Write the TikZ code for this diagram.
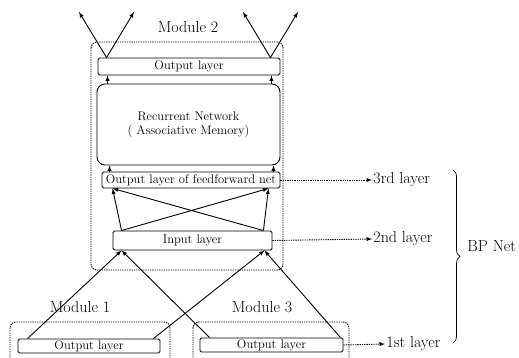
\documentclass[tikz,border=0pt]{standalone}
\usepackage{tikz}
\usetikzlibrary{arrows,shapes,positioning,decorations.pathreplacing}

\begin{document}
\begin{tikzpicture}[x=1pt,y=-1pt,>=latex,line width=0.9pt]
	\tikzstyle{layer} = [
		draw,
		rectangle,
		rounded corners=1.5pt,
		inner sep=0pt,
		font=\fontsize{12.5}{14.5}\selectfont
	]
	\tikzstyle{module} = [
		draw,
		dash pattern=on 1.3pt off 1pt,
		rounded corners=6pt
	]
	\tikzstyle{title} = [font=\fontsize{16}{18}\selectfont]
	\tikzstyle{level} = [font=\fontsize{16}{18}\selectfont, anchor=west, inner sep=1pt]

	\useasboundingbox (0,0) rectangle (519,358);

	% module 2
	\draw [module] (91,42) rectangle (283,270);
	\node (mod2) [style=title] at (188,27) {Module 2};

	\node (out2) [style=layer, minimum width=182pt, minimum height=17pt] at (189,66.5) {Output layer};
	\node (rec) [style=layer, rounded corners=8pt, minimum width=183pt, minimum height=81pt, align=center] at (188.5,124.5)
		{Recurrent Network\\( Associative Memory)};
	\node (ffout) [style=layer, minimum width=178pt, minimum height=16pt] at (191,180) {Output layer of feedforward net};
	\node (inp) [style=layer, minimum width=159pt, minimum height=19pt] at (192.5,240.5) {Input layer};

	% modules 1 and 3
	\draw [module] (10,322) rectangle (170,366);
	\draw [module] (193,322) rectangle (349,366);
	\node (mod1) [style=title] at (80,307) {Module 1};
	\node (mod3) [style=title] at (262,307) {Module 3};
	\node (out1) [style=layer, minimum width=142pt, minimum height=14pt] at (89,346) {Output layer};
	\node (out3) [style=layer, minimum width=143pt, minimum height=14pt] at (271.5,345) {Output layer};

	% outputs
	\coordinate (tl1) at (79,12);
	\coordinate (tl2) at (134,12);
	\coordinate (tr1) at (243,12);
	\coordinate (tr2) at (298,12);
	\draw [->] ([xshift=9pt]out2.north west) -- (tl1);
	\draw [->] ([xshift=9pt]out2.north west) -- (tl2);
	\draw [->] ([xshift=-10pt]out2.north east) -- (tr1);
	\draw [->] ([xshift=-10pt]out2.north east) -- (tr2);

	\draw [->] ([xshift=11pt]rec.north west) -- ([xshift=10pt]out2.south west);
	\draw [->] ([xshift=-9pt]rec.north east) -- ([xshift=-9pt]out2.south east);
	\draw [->] ([xshift=8pt]ffout.north west) -- ([xshift=13pt]rec.south west);
	\draw [->] ([xshift=-7pt]ffout.north east) -- ([xshift=-7pt]rec.south east);

	% feedforward connections
	\draw [->] ([xshift=9pt]inp.north west) -- ([xshift=11pt]ffout.south west);
	\draw [->] ([xshift=9pt]inp.north west) -- ([xshift=-12pt]ffout.south east);
	\draw [->] ([xshift=-9pt]inp.north east) -- ([xshift=11pt]ffout.south west);
	\draw [->] ([xshift=-9pt]inp.north east) -- ([xshift=-12pt]ffout.south east);

	\draw [->] ([xshift=10pt]out1.north west) -- ([xshift=9pt]inp.south west);
	\draw [->] ([xshift=10pt]out3.north west) -- ([xshift=9pt]inp.south west);
	\draw [->] ([xshift=-7pt]out1.north east) -- ([xshift=-8pt]inp.south east);
	\draw [->] ([xshift=-3pt]out3.north east) -- ([xshift=-8pt]inp.south east);

	% layer labels
	\node (l3) [style=level] at (372,180) {3rd layer};
	\node (l2) [style=level] at (372,239) {2nd layer};
	\node (l1) [style=level] at (385,344) {1st layer};
	\draw [->, dash pattern=on 1.3pt off 1pt] (ffout.east) -- (l3.west);
	\draw [->, dash pattern=on 1.3pt off 1pt] (inp.east) -- (l2.west);
	\draw [->, dash pattern=on 1.3pt off 1pt] (out3.east) -- (l1.west);

	\draw [decorate, decoration={brace, amplitude=7pt}, line width=0.7pt] (453,170) -- (453,343);
	\node (bp) [style=level] at (466,246) {BP Net};
\end{tikzpicture}
\end{document}
